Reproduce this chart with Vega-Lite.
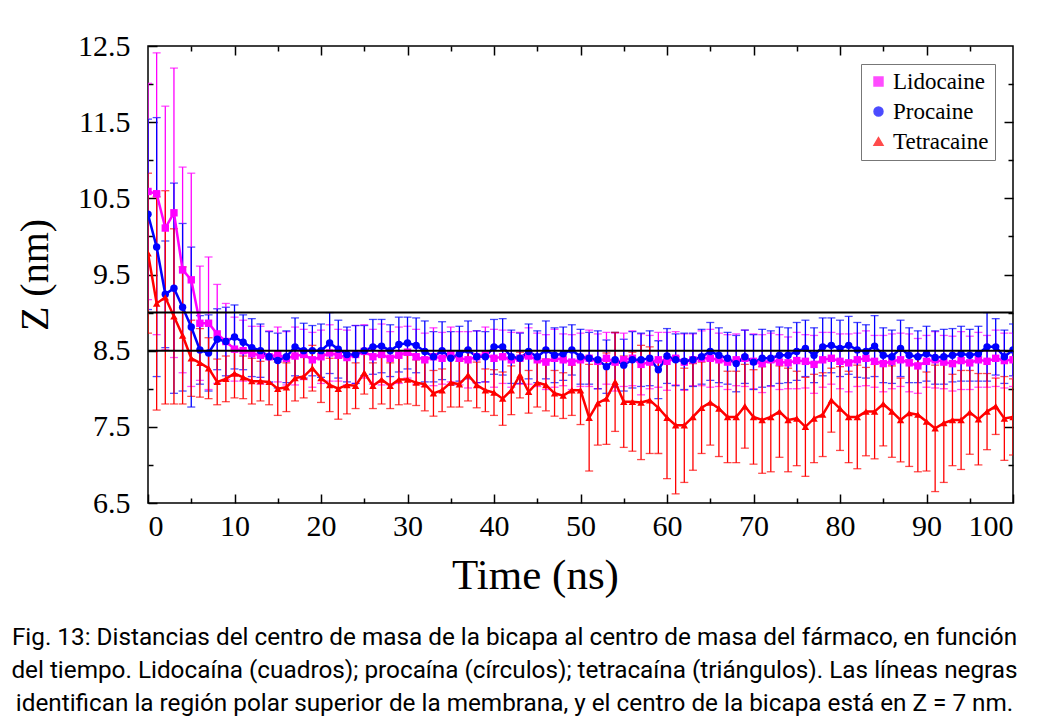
{
  "$schema": "https://vega.github.io/schema/vega-lite/v6.json",
  "width": 865,
  "height": 457,
  "autosize": {"type": "none"},
  "padding": {"left": 148, "top": 46, "right": 41, "bottom": 222},
  "background": "white",
  "title": {
    "text": ["Fig. 13: Distancias del centro de masa de la bicapa al centro de masa del fármaco, en función", "del tiempo. Lidocaína (cuadros); procaína (círculos); tetracaína (triángulos). Las líneas negras", "identifican la región polar superior de la membrana, y el centro de la bicapa está en Z = 7 nm."],
    "orient": "bottom", "anchor": "middle", "frame": "bounds",
    "font": "Roboto", "fontSize": 24.3, "fontWeight": "normal", "lineHeight": 33, "offset": 29, "color": "black"
  },
  "config": {
    "view": {"stroke": "black", "strokeWidth": 1.5},
    "axis": {"domain": false, "grid": false, "tickColor": "black", "tickWidth": 1.5, "tickSize": -9,
             "labelFont": "Liberation Serif", "labelFontSize": 30, "labelColor": "black",
             "titleFont": "Liberation Serif", "titleFontSize": 40, "titleFontWeight": "normal", "titleColor": "black"}
  },
  "data": {"values": [
    {"t":0,"d":"Lidocaine","z":10.59,"e":1.42},{"t":1,"d":"Lidocaine","z":10.56,"e":1.85},{"t":2,"d":"Lidocaine","z":10.11,"e":1.6},{"t":3,"d":"Lidocaine","z":10.31,"e":1.9},{"t":4,"d":"Lidocaine","z":9.56,"e":1.35},{"t":5,"d":"Lidocaine","z":9.43,"e":1.4},{"t":6,"d":"Lidocaine","z":8.86,"e":0.75},{"t":7,"d":"Lidocaine","z":8.86,"e":0.87},{"t":8,"d":"Lidocaine","z":8.72,"e":0.65},{"t":9,"d":"Lidocaine","z":8.62,"e":0.5},
    {"t":10,"d":"Lidocaine","z":8.52,"e":0.42},{"t":11,"d":"Lidocaine","z":8.5,"e":0.4},{"t":12,"d":"Lidocaine","z":8.46,"e":0.36},{"t":13,"d":"Lidocaine","z":8.44,"e":0.38},{"t":14,"d":"Lidocaine","z":8.42,"e":0.34},{"t":15,"d":"Lidocaine","z":8.45,"e":0.36},{"t":16,"d":"Lidocaine","z":8.4,"e":0.35},{"t":17,"d":"Lidocaine","z":8.43,"e":0.38},{"t":18,"d":"Lidocaine","z":8.45,"e":0.33},{"t":19,"d":"Lidocaine","z":8.38,"e":0.36},
    {"t":20,"d":"Lidocaine","z":8.42,"e":0.35},{"t":21,"d":"Lidocaine","z":8.47,"e":0.37},{"t":22,"d":"Lidocaine","z":8.44,"e":0.34},{"t":23,"d":"Lidocaine","z":8.41,"e":0.36},{"t":24,"d":"Lidocaine","z":8.45,"e":0.38},{"t":25,"d":"Lidocaine","z":8.49,"e":0.35},{"t":26,"d":"Lidocaine","z":8.42,"e":0.36},{"t":27,"d":"Lidocaine","z":8.45,"e":0.4},{"t":28,"d":"Lidocaine","z":8.4,"e":0.35},{"t":29,"d":"Lidocaine","z":8.44,"e":0.37},
    {"t":30,"d":"Lidocaine","z":8.48,"e":0.34},{"t":31,"d":"Lidocaine","z":8.42,"e":0.36},{"t":32,"d":"Lidocaine","z":8.38,"e":0.35},{"t":33,"d":"Lidocaine","z":8.42,"e":0.38},{"t":34,"d":"Lidocaine","z":8.4,"e":0.34},{"t":35,"d":"Lidocaine","z":8.45,"e":0.36},{"t":36,"d":"Lidocaine","z":8.4,"e":0.35},{"t":37,"d":"Lidocaine","z":8.38,"e":0.37},{"t":38,"d":"Lidocaine","z":8.42,"e":0.34},{"t":39,"d":"Lidocaine","z":8.45,"e":0.36},
    {"t":40,"d":"Lidocaine","z":8.4,"e":0.38},{"t":41,"d":"Lidocaine","z":8.42,"e":0.35},{"t":42,"d":"Lidocaine","z":8.38,"e":0.36},{"t":43,"d":"Lidocaine","z":8.4,"e":0.34},{"t":44,"d":"Lidocaine","z":8.43,"e":0.37},{"t":45,"d":"Lidocaine","z":8.38,"e":0.35},{"t":46,"d":"Lidocaine","z":8.35,"e":0.36},{"t":47,"d":"Lidocaine","z":8.4,"e":0.38},{"t":48,"d":"Lidocaine","z":8.38,"e":0.34},{"t":49,"d":"Lidocaine","z":8.35,"e":0.36},
    {"t":50,"d":"Lidocaine","z":8.38,"e":0.35},{"t":51,"d":"Lidocaine","z":8.4,"e":0.37},{"t":52,"d":"Lidocaine","z":8.36,"e":0.36},{"t":53,"d":"Lidocaine","z":8.4,"e":0.34},{"t":54,"d":"Lidocaine","z":8.35,"e":0.38},{"t":55,"d":"Lidocaine","z":8.38,"e":0.35},{"t":56,"d":"Lidocaine","z":8.4,"e":0.36},{"t":57,"d":"Lidocaine","z":8.32,"e":0.4},{"t":58,"d":"Lidocaine","z":8.35,"e":0.35},{"t":59,"d":"Lidocaine","z":8.38,"e":0.36},
    {"t":60,"d":"Lidocaine","z":8.36,"e":0.38},{"t":61,"d":"Lidocaine","z":8.4,"e":0.35},{"t":62,"d":"Lidocaine","z":8.35,"e":0.37},{"t":63,"d":"Lidocaine","z":8.38,"e":0.34},{"t":64,"d":"Lidocaine","z":8.4,"e":0.36},{"t":65,"d":"Lidocaine","z":8.4,"e":0.38},{"t":66,"d":"Lidocaine","z":8.38,"e":0.35},{"t":67,"d":"Lidocaine","z":8.35,"e":0.36},{"t":68,"d":"Lidocaine","z":8.38,"e":0.34},{"t":69,"d":"Lidocaine","z":8.4,"e":0.37},
    {"t":70,"d":"Lidocaine","z":8.36,"e":0.36},{"t":71,"d":"Lidocaine","z":8.33,"e":0.38},{"t":72,"d":"Lidocaine","z":8.38,"e":0.35},{"t":73,"d":"Lidocaine","z":8.35,"e":0.36},{"t":74,"d":"Lidocaine","z":8.34,"e":0.34},{"t":75,"d":"Lidocaine","z":8.37,"e":0.37},{"t":76,"d":"Lidocaine","z":8.36,"e":0.35},{"t":77,"d":"Lidocaine","z":8.32,"e":0.38},{"t":78,"d":"Lidocaine","z":8.38,"e":0.36},{"t":79,"d":"Lidocaine","z":8.4,"e":0.34},
    {"t":80,"d":"Lidocaine","z":8.36,"e":0.36},{"t":81,"d":"Lidocaine","z":8.34,"e":0.38},{"t":82,"d":"Lidocaine","z":8.38,"e":0.35},{"t":83,"d":"Lidocaine","z":8.4,"e":0.36},{"t":84,"d":"Lidocaine","z":8.36,"e":0.34},{"t":85,"d":"Lidocaine","z":8.33,"e":0.37},{"t":86,"d":"Lidocaine","z":8.36,"e":0.36},{"t":87,"d":"Lidocaine","z":8.38,"e":0.35},{"t":88,"d":"Lidocaine","z":8.34,"e":0.38},{"t":89,"d":"Lidocaine","z":8.3,"e":0.36},
    {"t":90,"d":"Lidocaine","z":8.36,"e":0.34},{"t":91,"d":"Lidocaine","z":8.38,"e":0.37},{"t":92,"d":"Lidocaine","z":8.35,"e":0.35},{"t":93,"d":"Lidocaine","z":8.33,"e":0.36},{"t":94,"d":"Lidocaine","z":8.37,"e":0.38},{"t":95,"d":"Lidocaine","z":8.34,"e":0.35},{"t":96,"d":"Lidocaine","z":8.38,"e":0.36},{"t":97,"d":"Lidocaine","z":8.36,"e":0.34},{"t":98,"d":"Lidocaine","z":8.4,"e":0.37},{"t":99,"d":"Lidocaine","z":8.37,"e":0.36},{"t":100,"d":"Lidocaine","z":8.38,"e":0.35},
    {"t":0,"d":"Procaine","z":10.29,"e":1.25},{"t":1,"d":"Procaine","z":9.86,"e":1.7},{"t":2,"d":"Procaine","z":9.24,"e":0.7},{"t":3,"d":"Procaine","z":9.32,"e":1.38},{"t":4,"d":"Procaine","z":9.07,"e":1.1},{"t":5,"d":"Procaine","z":8.81,"e":1.05},{"t":6,"d":"Procaine","z":8.51,"e":0.45},{"t":7,"d":"Procaine","z":8.47,"e":0.5},{"t":8,"d":"Procaine","z":8.65,"e":0.4},{"t":9,"d":"Procaine","z":8.62,"e":0.45},
    {"t":10,"d":"Procaine","z":8.68,"e":0.42},{"t":11,"d":"Procaine","z":8.61,"e":0.36},{"t":12,"d":"Procaine","z":8.54,"e":0.38},{"t":13,"d":"Procaine","z":8.5,"e":0.35},{"t":14,"d":"Procaine","z":8.42,"e":0.33},{"t":15,"d":"Procaine","z":8.37,"e":0.36},{"t":16,"d":"Procaine","z":8.42,"e":0.34},{"t":17,"d":"Procaine","z":8.55,"e":0.38},{"t":18,"d":"Procaine","z":8.5,"e":0.36},{"t":19,"d":"Procaine","z":8.5,"e":0.33},
    {"t":20,"d":"Procaine","z":8.5,"e":0.35},{"t":21,"d":"Procaine","z":8.6,"e":0.4},{"t":22,"d":"Procaine","z":8.52,"e":0.38},{"t":23,"d":"Procaine","z":8.45,"e":0.36},{"t":24,"d":"Procaine","z":8.45,"e":0.38},{"t":25,"d":"Procaine","z":8.5,"e":0.33},{"t":26,"d":"Procaine","z":8.55,"e":0.36},{"t":27,"d":"Procaine","z":8.56,"e":0.35},{"t":28,"d":"Procaine","z":8.5,"e":0.34},{"t":29,"d":"Procaine","z":8.58,"e":0.36},
    {"t":30,"d":"Procaine","z":8.6,"e":0.34},{"t":31,"d":"Procaine","z":8.57,"e":0.36},{"t":32,"d":"Procaine","z":8.49,"e":0.4},{"t":33,"d":"Procaine","z":8.42,"e":0.33},{"t":34,"d":"Procaine","z":8.5,"e":0.38},{"t":35,"d":"Procaine","z":8.4,"e":0.35},{"t":36,"d":"Procaine","z":8.46,"e":0.36},{"t":37,"d":"Procaine","z":8.51,"e":0.38},{"t":38,"d":"Procaine","z":8.42,"e":0.34},{"t":39,"d":"Procaine","z":8.42,"e":0.33},
    {"t":40,"d":"Procaine","z":8.55,"e":0.36},{"t":41,"d":"Procaine","z":8.55,"e":0.37},{"t":42,"d":"Procaine","z":8.42,"e":0.35},{"t":43,"d":"Procaine","z":8.4,"e":0.33},{"t":44,"d":"Procaine","z":8.49,"e":0.36},{"t":45,"d":"Procaine","z":8.42,"e":0.34},{"t":46,"d":"Procaine","z":8.51,"e":0.38},{"t":47,"d":"Procaine","z":8.44,"e":0.36},{"t":48,"d":"Procaine","z":8.46,"e":0.35},{"t":49,"d":"Procaine","z":8.51,"e":0.33},
    {"t":50,"d":"Procaine","z":8.42,"e":0.36},{"t":51,"d":"Procaine","z":8.4,"e":0.34},{"t":52,"d":"Procaine","z":8.38,"e":0.38},{"t":53,"d":"Procaine","z":8.29,"e":0.35},{"t":54,"d":"Procaine","z":8.38,"e":0.36},{"t":55,"d":"Procaine","z":8.31,"e":0.34},{"t":56,"d":"Procaine","z":8.38,"e":0.37},{"t":57,"d":"Procaine","z":8.38,"e":0.35},{"t":58,"d":"Procaine","z":8.4,"e":0.36},{"t":59,"d":"Procaine","z":8.25,"e":0.38},
    {"t":60,"d":"Procaine","z":8.43,"e":0.36},{"t":61,"d":"Procaine","z":8.38,"e":0.34},{"t":62,"d":"Procaine","z":8.36,"e":0.37},{"t":63,"d":"Procaine","z":8.38,"e":0.35},{"t":64,"d":"Procaine","z":8.42,"e":0.36},{"t":65,"d":"Procaine","z":8.49,"e":0.38},{"t":66,"d":"Procaine","z":8.44,"e":0.36},{"t":67,"d":"Procaine","z":8.4,"e":0.34},{"t":68,"d":"Procaine","z":8.33,"e":0.37},{"t":69,"d":"Procaine","z":8.42,"e":0.35},
    {"t":70,"d":"Procaine","z":8.35,"e":0.36},{"t":71,"d":"Procaine","z":8.4,"e":0.38},{"t":72,"d":"Procaine","z":8.4,"e":0.36},{"t":73,"d":"Procaine","z":8.44,"e":0.37},{"t":74,"d":"Procaine","z":8.44,"e":0.36},{"t":75,"d":"Procaine","z":8.49,"e":0.38},{"t":76,"d":"Procaine","z":8.53,"e":0.37},{"t":77,"d":"Procaine","z":8.44,"e":0.36},{"t":78,"d":"Procaine","z":8.55,"e":0.38},{"t":79,"d":"Procaine","z":8.57,"e":0.36},
    {"t":80,"d":"Procaine","z":8.53,"e":0.37},{"t":81,"d":"Procaine","z":8.57,"e":0.38},{"t":82,"d":"Procaine","z":8.51,"e":0.36},{"t":83,"d":"Procaine","z":8.49,"e":0.35},{"t":84,"d":"Procaine","z":8.56,"e":0.4},{"t":85,"d":"Procaine","z":8.44,"e":0.36},{"t":86,"d":"Procaine","z":8.42,"e":0.35},{"t":87,"d":"Procaine","z":8.53,"e":0.37},{"t":88,"d":"Procaine","z":8.44,"e":0.36},{"t":89,"d":"Procaine","z":8.42,"e":0.34},
    {"t":90,"d":"Procaine","z":8.46,"e":0.36},{"t":91,"d":"Procaine","z":8.41,"e":0.35},{"t":92,"d":"Procaine","z":8.42,"e":0.36},{"t":93,"d":"Procaine","z":8.44,"e":0.35},{"t":94,"d":"Procaine","z":8.46,"e":0.36},{"t":95,"d":"Procaine","z":8.44,"e":0.34},{"t":96,"d":"Procaine","z":8.46,"e":0.36},{"t":97,"d":"Procaine","z":8.55,"e":0.45},{"t":98,"d":"Procaine","z":8.55,"e":0.37},{"t":99,"d":"Procaine","z":8.42,"e":0.35},{"t":100,"d":"Procaine","z":8.51,"e":0.34},
    {"t":0,"d":"Tetracaine","z":9.78,"e":1.05},{"t":1,"d":"Tetracaine","z":9.12,"e":1.4},{"t":2,"d":"Tetracaine","z":9.2,"e":1.4},{"t":3,"d":"Tetracaine","z":8.95,"e":1.15},{"t":4,"d":"Tetracaine","z":8.7,"e":0.9},{"t":5,"d":"Tetracaine","z":8.4,"e":0.5},{"t":6,"d":"Tetracaine","z":8.34,"e":0.45},{"t":7,"d":"Tetracaine","z":8.27,"e":0.4},{"t":8,"d":"Tetracaine","z":8.09,"e":0.3},{"t":9,"d":"Tetracaine","z":8.13,"e":0.3},
    {"t":10,"d":"Tetracaine","z":8.2,"e":0.32},{"t":11,"d":"Tetracaine","z":8.15,"e":0.28},{"t":12,"d":"Tetracaine","z":8.1,"e":0.3},{"t":13,"d":"Tetracaine","z":8.1,"e":0.26},{"t":14,"d":"Tetracaine","z":8.09,"e":0.3},{"t":15,"d":"Tetracaine","z":8.0,"e":0.35},{"t":16,"d":"Tetracaine","z":8.02,"e":0.32},{"t":17,"d":"Tetracaine","z":8.14,"e":0.3},{"t":18,"d":"Tetracaine","z":8.16,"e":0.28},{"t":19,"d":"Tetracaine","z":8.27,"e":0.3},
    {"t":20,"d":"Tetracaine","z":8.14,"e":0.32},{"t":21,"d":"Tetracaine","z":8.05,"e":0.35},{"t":22,"d":"Tetracaine","z":8.0,"e":0.4},{"t":23,"d":"Tetracaine","z":8.05,"e":0.38},{"t":24,"d":"Tetracaine","z":8.04,"e":0.3},{"t":25,"d":"Tetracaine","z":8.21,"e":0.28},{"t":26,"d":"Tetracaine","z":8.04,"e":0.3},{"t":27,"d":"Tetracaine","z":8.12,"e":0.32},{"t":28,"d":"Tetracaine","z":8.04,"e":0.3},{"t":29,"d":"Tetracaine","z":8.12,"e":0.33},
    {"t":30,"d":"Tetracaine","z":8.12,"e":0.32},{"t":31,"d":"Tetracaine","z":8.08,"e":0.3},{"t":32,"d":"Tetracaine","z":8.06,"e":0.35},{"t":33,"d":"Tetracaine","z":7.94,"e":0.3},{"t":34,"d":"Tetracaine","z":7.98,"e":0.28},{"t":35,"d":"Tetracaine","z":8.08,"e":0.32},{"t":36,"d":"Tetracaine","z":8.06,"e":0.3},{"t":37,"d":"Tetracaine","z":8.18,"e":0.34},{"t":38,"d":"Tetracaine","z":8.05,"e":0.3},{"t":39,"d":"Tetracaine","z":7.98,"e":0.28},
    {"t":40,"d":"Tetracaine","z":7.95,"e":0.3},{"t":41,"d":"Tetracaine","z":7.87,"e":0.35},{"t":42,"d":"Tetracaine","z":7.98,"e":0.32},{"t":43,"d":"Tetracaine","z":8.18,"e":0.3},{"t":44,"d":"Tetracaine","z":7.96,"e":0.28},{"t":45,"d":"Tetracaine","z":8.08,"e":0.32},{"t":46,"d":"Tetracaine","z":8.05,"e":0.34},{"t":47,"d":"Tetracaine","z":7.94,"e":0.3},{"t":48,"d":"Tetracaine","z":7.91,"e":0.3},{"t":49,"d":"Tetracaine","z":7.98,"e":0.33},
    {"t":50,"d":"Tetracaine","z":7.98,"e":0.45},{"t":51,"d":"Tetracaine","z":7.62,"e":0.7},{"t":52,"d":"Tetracaine","z":7.81,"e":0.55},{"t":53,"d":"Tetracaine","z":7.87,"e":0.6},{"t":54,"d":"Tetracaine","z":8.09,"e":0.65},{"t":55,"d":"Tetracaine","z":7.83,"e":0.6},{"t":56,"d":"Tetracaine","z":7.83,"e":0.65},{"t":57,"d":"Tetracaine","z":7.82,"e":0.75},{"t":58,"d":"Tetracaine","z":7.85,"e":0.7},{"t":59,"d":"Tetracaine","z":7.75,"e":0.6},
    {"t":60,"d":"Tetracaine","z":7.62,"e":0.8},{"t":61,"d":"Tetracaine","z":7.52,"e":0.9},{"t":62,"d":"Tetracaine","z":7.52,"e":0.75},{"t":63,"d":"Tetracaine","z":7.63,"e":0.7},{"t":64,"d":"Tetracaine","z":7.75,"e":0.6},{"t":65,"d":"Tetracaine","z":7.82,"e":0.56},{"t":66,"d":"Tetracaine","z":7.74,"e":0.63},{"t":67,"d":"Tetracaine","z":7.63,"e":0.6},{"t":68,"d":"Tetracaine","z":7.63,"e":0.6},{"t":69,"d":"Tetracaine","z":7.77,"e":0.55},
    {"t":70,"d":"Tetracaine","z":7.63,"e":0.62},{"t":71,"d":"Tetracaine","z":7.59,"e":0.7},{"t":72,"d":"Tetracaine","z":7.63,"e":0.72},{"t":73,"d":"Tetracaine","z":7.7,"e":0.6},{"t":74,"d":"Tetracaine","z":7.59,"e":0.68},{"t":75,"d":"Tetracaine","z":7.61,"e":0.62},{"t":76,"d":"Tetracaine","z":7.5,"e":0.65},{"t":77,"d":"Tetracaine","z":7.61,"e":0.58},{"t":78,"d":"Tetracaine","z":7.66,"e":0.55},{"t":79,"d":"Tetracaine","z":7.85,"e":0.42},
    {"t":80,"d":"Tetracaine","z":7.74,"e":0.55},{"t":81,"d":"Tetracaine","z":7.63,"e":0.6},{"t":82,"d":"Tetracaine","z":7.63,"e":0.68},{"t":83,"d":"Tetracaine","z":7.7,"e":0.58},{"t":84,"d":"Tetracaine","z":7.7,"e":0.62},{"t":85,"d":"Tetracaine","z":7.8,"e":0.55},{"t":86,"d":"Tetracaine","z":7.7,"e":0.6},{"t":87,"d":"Tetracaine","z":7.59,"e":0.55},{"t":88,"d":"Tetracaine","z":7.68,"e":0.7},{"t":89,"d":"Tetracaine","z":7.66,"e":0.75},
    {"t":90,"d":"Tetracaine","z":7.57,"e":0.65},{"t":91,"d":"Tetracaine","z":7.48,"e":0.83},{"t":92,"d":"Tetracaine","z":7.55,"e":0.78},{"t":93,"d":"Tetracaine","z":7.59,"e":0.6},{"t":94,"d":"Tetracaine","z":7.59,"e":0.65},{"t":95,"d":"Tetracaine","z":7.69,"e":0.55},{"t":96,"d":"Tetracaine","z":7.6,"e":0.6},{"t":97,"d":"Tetracaine","z":7.7,"e":0.5},{"t":98,"d":"Tetracaine","z":7.77,"e":0.37},{"t":99,"d":"Tetracaine","z":7.61,"e":0.55},{"t":100,"d":"Tetracaine","z":7.63,"e":0.5}
  ]},
  "layer": [
    {
      "mark": {"type": "errorbar", "ticks": {"size": 8, "thickness": 1.3}, "thickness": 1.3, "clip": true},
      "encoding": {
        "x": {"field": "t", "type": "quantitative", "scale": {"domain": [0, 100], "nice": false, "zero": false},
              "axis": {"orient": "bottom", "values": [0,10,20,30,40,50,60,70,80,90,100], "format": "d", "tickSize": -9, "labelPadding": 17,
                       "title": "Time (ns)", "titleFontSize": 43, "titleX": 387, "titleY": 72, "titleBaseline": "middle"}},
        "y": {"field": "z", "type": "quantitative", "scale": {"domain": [6.5, 12.5], "nice": false, "zero": false},
              "axis": {"orient": "left", "values": [6.5,7.5,8.5,9.5,10.5,11.5,12.5], "format": ".1f", "tickSize": -9, "labelPadding": 27,
                       "title": "Z (nm)", "titleX": -113, "titleBaseline": "middle"}},
        "yError": {"field": "e"},
        "color": {"field": "d", "type": "nominal", "scale": {"domain": ["Lidocaine", "Procaine", "Tetracaine"], "range": ["#FF00FF", "#0000FF", "#FF0000"]}}
      }
    },
    {
      "transform": [{"filter": "datum.d === 'Lidocaine'"}],
      "mark": {"type": "line", "strokeWidth": 2.5, "clip": true},
      "encoding": {
        "x": {"field": "t", "type": "quantitative", "scale": {"domain": [0, 100], "nice": false, "zero": false},
              "axis": {"orient": "top", "values": [10,20,30,40,50,60,70,80,90], "tickSize": -9, "labels": false, "title": null}},
        "y": {"field": "z", "type": "quantitative", "scale": {"domain": [6.5, 12.5], "nice": false, "zero": false},
              "axis": {"orient": "right", "values": [7.5,8.5,9.5,10.5,11.5], "tickSize": -9, "labels": false, "title": null}},
        "color": {"field": "d", "type": "nominal", "scale": {"domain": ["Lidocaine", "Procaine", "Tetracaine"], "range": ["#FF00FF", "#0000FF", "#FF0000"]},
                  "legend": {"title": null, "orient": "top-right", "offset": 18, "strokeColor": "#777", "fillColor": "white", "padding": 6,
                             "labelFont": "Liberation Serif", "labelFontSize": 23, "labelColor": "black", "labelOffset": 3, "rowPadding": 6,
                             "symbolSize": 80, "symbolOpacity": 1}}
      }
    },
    {
      "transform": [{"filter": "datum.d === 'Procaine'"}],
      "mark": {"type": "line", "strokeWidth": 2.5, "clip": true},
      "encoding": {
        "x": {"field": "t", "type": "quantitative", "scale": {"domain": [0, 100], "nice": false, "zero": false},
              "axis": {"orient": "top", "values": [5,15,25,35,45,55,65,75,85,95], "tickSize": -5, "labels": false, "title": null}},
        "y": {"field": "z", "type": "quantitative", "scale": {"domain": [6.5, 12.5], "nice": false, "zero": false},
              "axis": {"orient": "right", "values": [7,8,9,10,11,12], "tickSize": -5, "labels": false, "title": null}},
        "color": {"field": "d", "type": "nominal", "scale": {"domain": ["Lidocaine", "Procaine", "Tetracaine"], "range": ["#FF00FF", "#0000FF", "#FF0000"]}}
      }
    },
    {
      "transform": [{"filter": "datum.d === 'Tetracaine'"}],
      "mark": {"type": "line", "strokeWidth": 2.5, "clip": true},
      "encoding": {
        "x": {"field": "t", "type": "quantitative", "scale": {"domain": [0, 100], "nice": false, "zero": false}, "axis": null},
        "y": {"field": "z", "type": "quantitative", "scale": {"domain": [6.5, 12.5], "nice": false, "zero": false}, "axis": null},
        "color": {"field": "d", "type": "nominal", "scale": {"domain": ["Lidocaine", "Procaine", "Tetracaine"], "range": ["#FF00FF", "#0000FF", "#FF0000"]}}
      }
    },
    {
      "mark": {"type": "point", "filled": true, "size": 55, "opacity": 1, "clip": true},
      "encoding": {
        "x": {"field": "t", "type": "quantitative", "scale": {"domain": [0, 100], "nice": false, "zero": false},
              "axis": {"orient": "bottom", "values": [5,15,25,35,45,55,65,75,85,95], "tickSize": -5, "labels": false, "title": null}},
        "y": {"field": "z", "type": "quantitative", "scale": {"domain": [6.5, 12.5], "nice": false, "zero": false},
              "axis": {"orient": "left", "values": [7,8,9,10,11,12], "tickSize": -5, "labels": false, "title": null}},
        "color": {"field": "d", "type": "nominal", "scale": {"domain": ["Lidocaine", "Procaine", "Tetracaine"], "range": ["#FF00FF", "#0000FF", "#FF0000"]}},
        "shape": {"field": "d", "type": "nominal", "scale": {"domain": ["Lidocaine", "Procaine", "Tetracaine"], "range": ["square", "circle", "triangle-up"]}, "legend": null}
      }
    },
    {
      "data": {"values": [{"z": 8.5}, {"z": 9.0}]},
      "mark": {"type": "rule", "color": "black", "strokeWidth": 2},
      "encoding": {
        "y": {"field": "z", "type": "quantitative", "scale": {"domain": [6.5, 12.5], "nice": false, "zero": false}, "axis": null}
      }
    }
  ],
  "resolve": {"axis": {"x": "independent", "y": "independent"}}
}
